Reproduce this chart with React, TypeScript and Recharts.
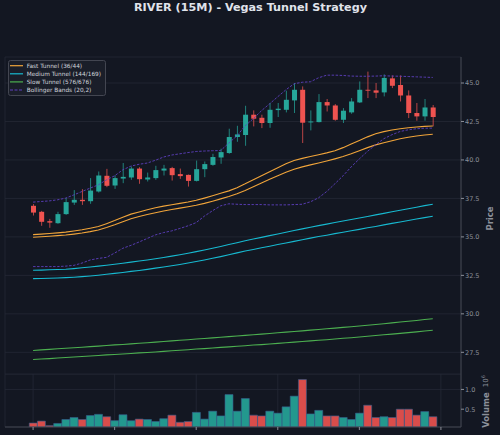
import React from 'react';
import { ComposedChart, Bar, Line, XAxis, YAxis, CartesianGrid, Cell } from 'recharts';

// ---------- data ----------
const opens = [37.02, 36.63, 36.02, 35.89, 36.48, 37.23, 37.41, 37.32, 37.95, 38.97, 38.34, 38.79, 38.86, 39.44, 38.73, 38.82, 39.31, 39.47, 39.08, 39.03, 38.64, 39.40, 39.68, 40.16, 40.45, 41.49, 41.62, 42.94, 42.74, 42.40, 43.24, 43.26, 43.87, 44.56, 42.44, 42.46, 43.76, 43.54, 42.61, 43.09, 43.74, 44.56, 44.52, 44.39, 45.30, 44.87, 44.19, 43.05, 42.83, 43.41];
const highs = [37.13, 36.69, 36.17, 36.63, 37.52, 38.04, 38.10, 38.82, 39.25, 39.42, 38.99, 39.80, 39.57, 39.53, 39.18, 39.62, 39.68, 39.55, 39.44, 39.05, 39.96, 39.90, 40.40, 40.73, 42.03, 42.22, 43.52, 43.22, 42.94, 43.70, 43.70, 44.50, 45.00, 44.78, 43.22, 44.28, 43.96, 43.63, 43.37, 44.02, 45.10, 45.74, 45.00, 45.56, 45.49, 45.49, 44.52, 43.70, 43.96, 43.57];
const lows = [36.39, 35.72, 35.59, 35.85, 36.43, 37.08, 37.08, 37.15, 37.88, 38.23, 38.12, 38.49, 38.71, 38.45, 38.60, 38.71, 38.99, 38.66, 38.77, 38.27, 38.60, 38.88, 39.62, 39.75, 40.40, 41.18, 40.92, 42.18, 42.07, 42.09, 42.79, 43.09, 43.05, 41.10, 41.92, 42.44, 43.15, 42.55, 42.40, 43.00, 43.70, 44.02, 44.02, 44.13, 44.67, 43.80, 42.72, 42.55, 42.55, 42.18];
const closes = [36.58, 35.98, 35.93, 36.48, 37.26, 37.41, 37.32, 38.01, 38.99, 38.32, 38.82, 38.90, 39.44, 38.75, 38.86, 39.34, 39.44, 39.01, 38.95, 38.64, 39.40, 39.73, 40.19, 40.51, 41.49, 41.66, 42.94, 42.68, 42.40, 43.26, 43.33, 43.91, 44.56, 42.42, 42.50, 43.76, 43.54, 42.61, 43.20, 43.80, 44.56, 44.52, 44.37, 45.33, 44.82, 44.19, 43.05, 42.83, 43.41, 42.79];
// volume in millions
const volumes = [0.15, 0.20, 0.085, 0.14, 0.24, 0.29, 0.24, 0.34, 0.37, 0.31, 0.21, 0.36, 0.21, 0.25, 0.24, 0.19, 0.26, 0.35, 0.17, 0.19, 0.42, 0.25, 0.45, 0.33, 0.87, 0.45, 0.77, 0.35, 0.33, 0.45, 0.40, 0.56, 0.83, 1.25, 0.38, 0.47, 0.33, 0.33, 0.29, 0.24, 0.40, 0.60, 0.29, 0.31, 0.29, 0.50, 0.50, 0.35, 0.44, 0.31];

const fastUpper = [35.15, 35.18, 35.22, 35.26, 35.31, 35.38, 35.46, 35.56, 35.67, 35.86, 36.06, 36.28, 36.48, 36.62, 36.76, 36.89, 37.00, 37.09, 37.18, 37.27, 37.38, 37.52, 37.67, 37.83, 37.99, 38.20, 38.45, 38.72, 38.98, 39.24, 39.50, 39.75, 39.97, 40.10, 40.22, 40.34, 40.46, 40.60, 40.80, 41.04, 41.27, 41.50, 41.70, 41.84, 41.95, 42.03, 42.09, 42.14, 42.18, 42.21];
const fastLower = [34.98, 35.01, 35.04, 35.08, 35.12, 35.18, 35.25, 35.34, 35.45, 35.61, 35.79, 35.99, 36.18, 36.32, 36.45, 36.57, 36.68, 36.78, 36.87, 36.96, 37.06, 37.18, 37.32, 37.47, 37.62, 37.80, 38.02, 38.26, 38.50, 38.74, 38.97, 39.20, 39.40, 39.55, 39.68, 39.80, 39.93, 40.07, 40.22, 40.40, 40.60, 40.80, 40.98, 41.12, 41.25, 41.38, 41.48, 41.56, 41.62, 41.67];
const mediumUpper = [32.83, 32.84, 32.86, 32.88, 32.90, 32.94, 32.99, 33.04, 33.10, 33.16, 33.22, 33.29, 33.36, 33.43, 33.50, 33.58, 33.66, 33.75, 33.84, 33.94, 34.04, 34.15, 34.26, 34.38, 34.50, 34.62, 34.75, 34.86, 34.97, 35.08, 35.19, 35.30, 35.41, 35.52, 35.63, 35.73, 35.83, 35.93, 36.03, 36.13, 36.23, 36.33, 36.43, 36.53, 36.63, 36.73, 36.83, 36.93, 37.03, 37.12];
const mediumLower = [32.29, 32.30, 32.31, 32.33, 32.35, 32.38, 32.42, 32.46, 32.51, 32.57, 32.63, 32.69, 32.76, 32.82, 32.89, 32.97, 33.04, 33.12, 33.21, 33.30, 33.40, 33.50, 33.61, 33.72, 33.84, 33.96, 34.08, 34.18, 34.29, 34.39, 34.50, 34.60, 34.71, 34.81, 34.92, 35.02, 35.11, 35.21, 35.30, 35.40, 35.49, 35.59, 35.68, 35.78, 35.88, 35.97, 36.06, 36.16, 36.25, 36.34];
const slowUpper = [27.62, 27.66, 27.69, 27.73, 27.76, 27.80, 27.83, 27.87, 27.90, 27.94, 27.98, 28.01, 28.05, 28.09, 28.12, 28.16, 28.20, 28.24, 28.28, 28.32, 28.36, 28.40, 28.44, 28.48, 28.52, 28.56, 28.60, 28.64, 28.68, 28.72, 28.77, 28.81, 28.85, 28.89, 28.94, 28.98, 29.03, 29.07, 29.12, 29.16, 29.21, 29.26, 29.31, 29.36, 29.41, 29.47, 29.52, 29.57, 29.63, 29.68];
const slowLower = [27.03, 27.06, 27.09, 27.13, 27.16, 27.19, 27.23, 27.26, 27.29, 27.33, 27.36, 27.39, 27.42, 27.46, 27.49, 27.52, 27.56, 27.60, 27.63, 27.67, 27.71, 27.74, 27.78, 27.82, 27.85, 27.89, 27.93, 27.97, 28.00, 28.04, 28.08, 28.12, 28.16, 28.20, 28.24, 28.28, 28.32, 28.36, 28.41, 28.45, 28.49, 28.54, 28.59, 28.64, 28.68, 28.73, 28.78, 28.83, 28.88, 28.93];
const bbUpper = [37.26, 37.30, 37.34, 37.41, 37.52, 37.73, 37.95, 38.17, 38.38, 38.71, 38.97, 39.36, 39.60, 39.72, 39.80, 39.98, 40.19, 40.32, 40.40, 40.48, 40.55, 40.58, 40.60, 40.61, 41.10, 41.57, 42.22, 42.68, 43.20, 43.65, 44.11, 44.56, 44.95, 45.05, 45.08, 45.34, 45.51, 45.51, 45.49, 45.45, 45.44, 45.44, 45.45, 45.47, 45.45, 45.44, 45.42, 45.40, 45.38, 45.36];
const bbLower = [33.07, 33.07, 33.07, 33.07, 33.10, 33.15, 33.30, 33.50, 33.60, 33.67, 33.95, 34.26, 34.45, 34.67, 34.90, 35.13, 35.28, 35.39, 35.55, 35.72, 35.93, 36.35, 36.70, 37.02, 37.15, 37.12, 37.10, 37.10, 37.10, 37.08, 37.08, 37.08, 37.10, 37.12, 37.28, 37.54, 37.95, 38.45, 38.97, 39.55, 40.07, 40.56, 40.99, 41.38, 41.64, 41.85, 41.96, 42.03, 42.06, 42.07];

const xTicks = [0, 10, 20, 30, 40, 50];
const priceTicks = [27.5, 30, 32.5, 35, 37.5, 40, 42.5, 45];
const volumeTicks = [0.5, 1.0];

const legendNames = ['Fast Tunnel (36/44)', 'Medium Tunnel (144/169)', 'Slow Tunnel (576/676)', 'Bollinger Bands (20,2)'];

// ---------- styles ----------
const BG = '#131722';
const UP = '#26a69a';
const DOWN = '#ef5350';
const FAST = '#f0a43a';
const MEDIUM = '#17b9d0';
const SLOW = '#4caf50';
const BB = '#5e3fc0';
const GRID = '#242836';
const FRAME = '#434651';
const TICK = '#8b8f99';
const FONT = 'DejaVu Sans';
const legendColors = [FAST, MEDIUM, SLOW, BB];
const legendDashed = [false, false, false, true];

// table for the library (index 50 is an empty slot so the last tick exists)
const rows: any[] = [];
for (let i = 0; i <= 50; i++) {
  if (i < opens.length) {
    rows.push({
      i,
      open: opens[i], high: highs[i], low: lows[i], close: closes[i],
      vol: volumes[i],
      fu: fastUpper[i], fl: fastLower[i],
      mu: mediumUpper[i], ml: mediumLower[i],
      su: slowUpper[i], sl: slowLower[i],
      bu: bbUpper[i], bl: bbLower[i],
    });
  } else {
    rows.push({ i });
  }
}

const Candle = (props: any) => {
  const { x, y, width, height, payload } = props;
  if (!payload || payload.high == null) return null;
  const { open, close, high, low } = payload;
  const top = Math.min(y, y + height);
  const h = Math.abs(height);
  const ppu = h / (high - low);
  const yOf = (v: number) => top + (high - v) * ppu;
  const color = close >= open ? UP : DOWN;
  const cx = x + width / 2;
  const bodyTop = yOf(Math.max(open, close));
  const bodyH = Math.max(Math.abs(yOf(open) - yOf(close)), 0.9);
  return (
    <g>
      <line x1={cx} x2={cx} y1={top} y2={top + h} stroke={color} strokeOpacity={0.75} strokeWidth={1} />
      <rect x={x} y={bodyTop} width={width} height={bodyH} fill={color} />
    </g>
  );
};

const PriceLabel = (props: any) => {
  const vb = props.viewBox || {};
  const cx = vb.x + 29;
  const cy = vb.y + vb.height / 2 + 3;
  return (
    <text x={cx} y={cy} transform={`rotate(-90, ${cx}, ${cy})`} textAnchor="middle" dominantBaseline="central"
      fill={TICK} fontSize={8.5} fontWeight="bold" fontFamily={FONT}>Price</text>
  );
};

const VolumeLabel = (props: any) => {
  const vb = props.viewBox || {};
  const cx = vb.x + 25;
  const cy = vb.y + vb.height / 2 + 1;
  return (
    <text x={cx} y={cy} transform={`rotate(-90, ${cx}, ${cy})`} textAnchor="middle" dominantBaseline="central"
      fill={TICK} fontSize={8.5} fontWeight="bold" fontFamily={FONT}>
      Volume
      <tspan dx={5} fontWeight="normal" fontSize={7}>10</tspan>
      <tspan dy={-3} fontWeight="normal" fontSize={5}>6</tspan>
    </text>
  );
};

const tickStyle = { fill: TICK, fontSize: 6.5, fontFamily: FONT };

export default function App() {
  return (
    <div style={{ position: 'absolute', left: 0, top: 0, width: 500, height: 435, background: BG, overflow: 'hidden', fontFamily: FONT }}>
      <svg style={{ position: 'absolute', left: 0, top: 0 }} width={500} height={16}>
        <text x={250.5} y={11.3} textAnchor="middle" fill="#e0e3eb" fontSize={11.2} fontWeight="bold" fontFamily={FONT}>
          RIVER (15M) - Vegas Tunnel Strategy
        </text>
      </svg>

      <div style={{ position: 'absolute', left: 0, top: 0 }}>
        <ComposedChart width={500} height={375} data={rows} margin={{ top: 57, right: 0, bottom: 1, left: 5 }}>
          <CartesianGrid stroke={GRID} strokeWidth={0.8} horizontal vertical />
          <XAxis dataKey="i" type="category" ticks={xTicks} interval={0} height={0} padding={{ left: 24, right: 16 }}
            tick={false} tickLine={false} axisLine={{ stroke: FRAME, strokeWidth: 1 }} />
          <XAxis xAxisId="top" orientation="top" dataKey="i" type="category" height={0} padding={{ left: 24, right: 16 }}
            tick={false} tickLine={false} axisLine={{ stroke: FRAME, strokeWidth: 1 }} />
          <YAxis yAxisId="left" orientation="left" width={0} tick={false} tickLine={false} axisLine={{ stroke: FRAME, strokeWidth: 1 }} />
          <YAxis orientation="right" width={39} type="number" domain={[26.09, 46.69]} allowDataOverflow ticks={priceTicks}
            tickFormatter={(v: number) => v.toFixed(1)} tick={tickStyle} tickSize={3} tickMargin={1}
            tickLine={{ stroke: TICK }} axisLine={{ stroke: FRAME, strokeWidth: 1 }} label={PriceLabel} />
          <Line dataKey="su" stroke={SLOW} strokeWidth={1.1} dot={false} isAnimationActive={false} />
          <Line dataKey="sl" stroke={SLOW} strokeWidth={1.1} dot={false} isAnimationActive={false} />
          <Line dataKey="mu" stroke={MEDIUM} strokeWidth={1.1} dot={false} isAnimationActive={false} />
          <Line dataKey="ml" stroke={MEDIUM} strokeWidth={1.1} dot={false} isAnimationActive={false} />
          <Line dataKey="fu" stroke={FAST} strokeWidth={1.1} dot={false} isAnimationActive={false} />
          <Line dataKey="fl" stroke={FAST} strokeWidth={1.1} dot={false} isAnimationActive={false} />
          <Line dataKey="bu" stroke={BB} strokeWidth={0.9} strokeDasharray="2.5 1.5" dot={false} isAnimationActive={false} />
          <Line dataKey="bl" stroke={BB} strokeWidth={0.9} strokeDasharray="2.5 1.5" dot={false} isAnimationActive={false} />
          <Bar dataKey={(d: any) => (d.high != null ? [d.low, d.high] : null)} barSize={5} shape={Candle} isAnimationActive={false} />
        </ComposedChart>
      </div>

      <div style={{ position: 'absolute', left: 0, top: 374 }}>
        <ComposedChart width={500} height={61} data={rows} margin={{ top: 0, right: 0, bottom: 0, left: 5 }} barCategoryGap="3%">
          <CartesianGrid stroke={GRID} strokeWidth={0.8} horizontal vertical />
          <XAxis dataKey="i" type="category" ticks={xTicks} interval={0} height={8} padding={{ left: 24, right: 16 }}
            tickFormatter={() => ''} tickSize={3} tickLine={{ stroke: TICK }} axisLine={{ stroke: FRAME, strokeWidth: 1 }} />
          <YAxis yAxisId="left" orientation="left" width={0} tick={false} tickLine={false} axisLine={{ stroke: FRAME, strokeWidth: 1 }} />
          <YAxis orientation="right" width={39} type="number" domain={[0.05, 1.39]} allowDataOverflow ticks={volumeTicks}
            tickFormatter={(v: number) => v.toFixed(1)} tick={tickStyle} tickSize={3} tickMargin={1}
            tickLine={{ stroke: TICK }} axisLine={{ stroke: FRAME, strokeWidth: 1 }} label={VolumeLabel} />
          <Bar dataKey="vol" isAnimationActive={false} stroke="#35608f" strokeWidth={0.6} fillOpacity={0.9}>
            {rows.map((r, idx) => (
              <Cell key={idx} fill={r.close != null && r.close >= r.open ? UP : DOWN} />
            ))}
          </Bar>
        </ComposedChart>
      </div>

      <svg style={{ position: 'absolute', left: 8, top: 60 }} width={98} height={36}>
        <rect x={0.5} y={0.5} width={97} height={35} rx={2} fill="#1a1e29" stroke={FRAME} strokeWidth={1} />
        {legendNames.map((name, k) => (
          <g key={name}>
            <line x1={2} x2={15} y1={5.7 + k * 8.1} y2={5.7 + k * 8.1} stroke={legendColors[k]} strokeWidth={1.2}
              strokeDasharray={legendDashed[k] ? '3 1.5' : undefined} />
            <text x={18.7} y={5.7 + k * 8.1} dominantBaseline="central" fill="#d1d4dc" fontSize={5.8} fontFamily={FONT}>{name}</text>
          </g>
        ))}
      </svg>
    </div>
  );
}
